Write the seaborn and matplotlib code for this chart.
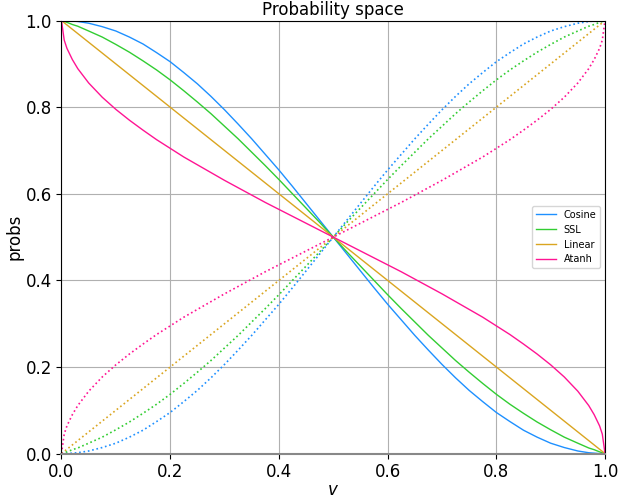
import matplotlib
matplotlib.use("Agg")
import matplotlib.pyplot as plt
import seaborn as sns
import pandas as pd

# Shared grid of v values (denser near the ends where Atanh is steep)
v = [0, 0.005, 0.01, 0.02, 0.03, 0.05, 0.075, 0.1, 0.125, 0.15, 0.175, 0.2,
     0.225, 0.25, 0.275, 0.3, 0.325, 0.35, 0.375, 0.4, 0.425, 0.45, 0.475, 0.5,
     0.525, 0.55, 0.575, 0.6, 0.625, 0.65, 0.675, 0.7, 0.725, 0.75, 0.775, 0.8,
     0.825, 0.85, 0.875, 0.9, 0.925, 0.95, 0.97, 0.98, 0.99, 0.995, 1]

# Probability of the first outcome for each mapping
cosine = [1.000, 1.000, 1.000, 0.999, 0.998, 0.994, 0.986, 0.976, 0.962, 0.946, 0.926, 0.905,
          0.880, 0.854, 0.825, 0.794, 0.761, 0.727, 0.691, 0.655, 0.617, 0.578, 0.539, 0.500,
          0.461, 0.422, 0.383, 0.345, 0.309, 0.273, 0.239, 0.206, 0.175, 0.146, 0.120, 0.095,
          0.074, 0.054, 0.038, 0.024, 0.014, 0.006, 0.002, 0.001, 0.000, 0.000, 0.000]
ssl = [1.000, 0.998, 0.996, 0.991, 0.987, 0.976, 0.962, 0.945, 0.927, 0.907, 0.886, 0.863,
       0.838, 0.812, 0.785, 0.756, 0.727, 0.696, 0.665, 0.633, 0.600, 0.567, 0.534, 0.500,
       0.466, 0.433, 0.400, 0.367, 0.335, 0.304, 0.273, 0.244, 0.215, 0.188, 0.162, 0.137,
       0.114, 0.093, 0.073, 0.055, 0.038, 0.024, 0.013, 0.009, 0.004, 0.002, 0.000]
linear = [1.000, 0.995, 0.990, 0.980, 0.970, 0.950, 0.925, 0.900, 0.875, 0.850, 0.825, 0.800,
          0.775, 0.750, 0.725, 0.700, 0.675, 0.650, 0.625, 0.600, 0.575, 0.550, 0.525, 0.500,
          0.475, 0.450, 0.425, 0.400, 0.375, 0.350, 0.325, 0.300, 0.275, 0.250, 0.225, 0.200,
          0.175, 0.150, 0.125, 0.100, 0.075, 0.050, 0.030, 0.020, 0.010, 0.005, 0.000]
atanh = [1.000, 0.955, 0.936, 0.910, 0.889, 0.856, 0.823, 0.795, 0.770, 0.747, 0.725, 0.705,
         0.685, 0.667, 0.649, 0.631, 0.614, 0.597, 0.580, 0.564, 0.548, 0.532, 0.516, 0.500,
         0.484, 0.468, 0.452, 0.436, 0.420, 0.403, 0.386, 0.369, 0.351, 0.333, 0.315, 0.295,
         0.275, 0.253, 0.230, 0.205, 0.177, 0.144, 0.111, 0.090, 0.064, 0.045, 0.000]

# Probability of the second outcome (dotted curves)
cosine_other = [0.000, 0.000, 0.000, 0.001, 0.002, 0.006, 0.014, 0.024, 0.038, 0.054, 0.074, 0.095,
                0.120, 0.146, 0.175, 0.206, 0.239, 0.273, 0.309, 0.345, 0.383, 0.422, 0.461, 0.500,
                0.539, 0.578, 0.617, 0.655, 0.691, 0.727, 0.761, 0.794, 0.825, 0.854, 0.880, 0.905,
                0.926, 0.946, 0.962, 0.976, 0.986, 0.994, 0.998, 0.999, 1.000, 1.000, 1.000]
ssl_other = [0.000, 0.002, 0.004, 0.009, 0.013, 0.024, 0.038, 0.055, 0.073, 0.093, 0.114, 0.137,
             0.162, 0.188, 0.215, 0.244, 0.273, 0.304, 0.335, 0.367, 0.400, 0.433, 0.466, 0.500,
             0.534, 0.567, 0.600, 0.633, 0.665, 0.696, 0.727, 0.756, 0.785, 0.812, 0.838, 0.863,
             0.886, 0.907, 0.927, 0.945, 0.962, 0.976, 0.987, 0.991, 0.996, 0.998, 1.000]
linear_other = [0.000, 0.005, 0.010, 0.020, 0.030, 0.050, 0.075, 0.100, 0.125, 0.150, 0.175, 0.200,
                0.225, 0.250, 0.275, 0.300, 0.325, 0.350, 0.375, 0.400, 0.425, 0.450, 0.475, 0.500,
                0.525, 0.550, 0.575, 0.600, 0.625, 0.650, 0.675, 0.700, 0.725, 0.750, 0.775, 0.800,
                0.825, 0.850, 0.875, 0.900, 0.925, 0.950, 0.970, 0.980, 0.990, 0.995, 1.000]
atanh_other = [0.000, 0.045, 0.064, 0.090, 0.111, 0.144, 0.177, 0.205, 0.230, 0.253, 0.275, 0.295,
               0.315, 0.333, 0.351, 0.369, 0.386, 0.403, 0.420, 0.436, 0.452, 0.468, 0.484, 0.500,
               0.516, 0.532, 0.548, 0.564, 0.580, 0.597, 0.614, 0.631, 0.649, 0.667, 0.685, 0.705,
               0.725, 0.747, 0.770, 0.795, 0.823, 0.856, 0.889, 0.910, 0.936, 0.955, 1.000]

names = ["Cosine", "SSL", "Linear", "Atanh"]
colors = ["#1E90FF", "#32CD32", "#DAA520", "#FF1493"]
main_series = [cosine, ssl, linear, atanh]
other_series = [cosine_other, ssl_other, linear_other, atanh_other]

fig = plt.figure(figsize=(6.18, 4.99), dpi=100)
ax = fig.add_axes([0.0995, 0.091, 0.8795, 0.8677])

for name, color, main, other in zip(names, colors, main_series, other_series):
    df = pd.DataFrame({"v": v, "p": main, "q": other})
    sns.lineplot(data=df, x="v", y="p", ax=ax, color=color, linewidth=1.0,
                 label=name, estimator=None, sort=False)
    sns.lineplot(data=df, x="v", y="q", ax=ax, color=color, linewidth=1.2,
                 linestyle=":", estimator=None, sort=False, legend=False)

ax.set_xlim(0, 1)
ax.set_ylim(0, 1)
ax.set_xticks([0, 0.2, 0.4, 0.6, 0.8, 1.0])
ax.set_yticks([0, 0.2, 0.4, 0.6, 0.8, 1.0])
ax.tick_params(labelsize=12)
ax.grid(True, color="#b0b0b0", linewidth=0.8)
ax.spines["bottom"].set_color("#888888")
ax.spines["bottom"].set_linewidth(1.5)

ax.set_title("Probability space", fontsize=12, pad=4)
ax.set_xlabel("$v$", fontsize=12, labelpad=0)
ax.set_ylabel("probs", fontsize=12, labelpad=1.5)
ax.legend(loc="center right", fontsize=7)

fig.savefig("out.png", dpi=100)
